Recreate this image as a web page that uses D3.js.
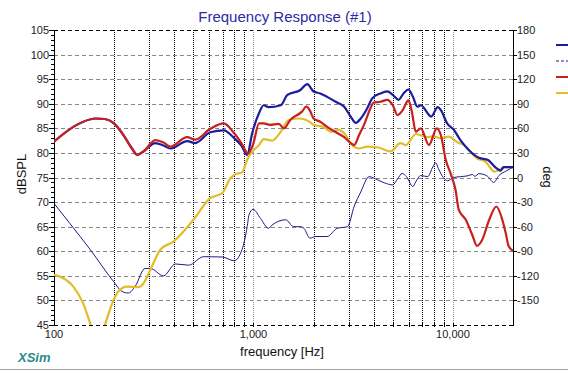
<!DOCTYPE html>
<html>
<head>
<meta charset="utf-8">
<script src="https://cdn.jsdelivr.net/npm/d3@7"></script>
<style>
  body { margin: 0; background: #fff; }
  svg { display: block; font-family: "Liberation Sans", Arial, sans-serif; }
</style>
</head>
<body>
<svg id="chart" width="568" height="374"></svg>
<script>
// SPL of the sum (blue, dB)
const sumFreq = [100,130,161,180,200,223,246,262,281,322,354,383,465,511,607,710,800,870,930,985,1066,1125,1190,1370,1480,1720,1860,2000,2160,2340,2640,2850,3070,3260,3450,3720,3940,4330,4690,4990,5340,5650,5980,6300,6630,6900,7780,8390,8700,9350,10100,10900,12000,13500,14900,16500,17300,18000,20000];
const sumSpl = [82.3,85.7,87.0,86.9,86.0,83.6,80.9,79.6,80.3,82.0,81.5,80.9,82.4,82.0,84.2,84.6,83.0,81.5,79.6,84.0,88.1,89.7,89.3,89.7,91.8,92.8,94.0,92.5,92.1,91.4,90.2,89.4,87.4,86.1,87.0,89.1,91.1,92.1,92.5,91.8,90.8,92.1,92.9,91.4,89.4,89.7,87.4,89.3,88.7,86.0,84.7,82.6,80.6,79.0,78.6,76.9,76.4,77.1,77.1];

// phase of the sum (thin blue, deg)
const phaseFreq = [100,120,152,199,219,236,255,286,304,354,406,473,563,697,800,876,930,950,995,1085,1190,1240,1450,1590,1720,1790,1920,2050,2340,2630,2960,3200,3450,3800,4200,4530,4990,5270,5560,5850,6300,6500,6900,7470,7930,8200,8450,9000,9400,10100,10900,11800,12500,12900,13500,14900,16000,17000,18500,20000];
const phaseDeg = [-31.5,-56,-88,-127,-139,-141,-133,-111,-111,-120,-105.5,-107,-96.6,-97,-101.6,-88,-60,-45.6,-38.8,-50,-62,-58,-51.6,-60,-60,-62,-74,-72,-72,-62,-60,-35,-17.6,1,-3,-6.5,-9,-2,5,1,-11,-5.5,2.4,1,13,18,11,-1,-4,0,1,2,3.6,1.5,4.7,1.5,-6,2.4,8,12.5];

// woofer (red, dB)
const wooferFreq = [100,130,161,180,200,223,246,262,281,322,354,383,465,511,607,710,800,870,940,1000,1066,1125,1210,1340,1420,1530,1750,1840,1930,2000,2160,2340,2640,2850,3070,3200,3380,3580,3860,4000,4330,4690,4990,5270,5600,5980,6200,6520,6900,7580,8300,8700,9200,9800,10300,10700,11600,12500,13200,14000,15200,16500,17500,18400,19000,20000];
const wooferSpl = [82.3,85.7,87.0,86.9,86.0,83.6,80.9,79.6,80.3,82.6,82.1,81.3,83.2,82.7,84.9,86.0,84.0,82.0,79.9,82.0,86.0,86.0,85.7,85.9,85.0,86.7,88.4,89.4,88.4,87.0,86.35,85.3,84.0,83.2,82.0,81.6,83.6,85.7,89.1,90.2,90.4,90.8,89.7,87.7,88.7,90.7,88.7,84.3,85.0,81.6,85.0,83.6,78.6,75.5,72.5,68.4,66.4,63.3,61.1,62.3,66.4,69.1,67.0,63.65,61.1,60.1];

// tweeter (yellow, dB)
const tweeterFreq = [100,109,125,140,152,166,180,199,210,232,265,281,304,341,398,500,607,697,765,800,830,876,930,970,1066,1125,1240,1370,1500,1690,1930,2000,2240,2450,2680,2850,3120,3380,3720,4230,4880,5450,5800,6520,7430,7930,8700,9500,10600,11400,12200,13200,14600,16100,17000,18000,20000];
const tweeterSpl = [55.2,54.7,52.8,49.4,45.3,40.5,45,50.1,51.8,52.8,52.7,53.5,56.2,60.3,62.0,66.4,70.8,71.8,74.8,75.5,75.8,76.0,78.6,79.9,81.6,82.8,82.5,84.3,86.7,87.0,86.2,85.7,85.3,84.3,84.7,84.0,81.6,80.9,81.3,81.1,80.3,82.0,81.6,83.85,83.2,83.4,83.0,83.3,82.1,81.6,80.3,78.9,78.2,76.2,76.5,77.1,77.1];

const splTicks = [45,50,55,60,65,70,75,80,85,90,95,100,105];
const degTicks = [180,150,120,90,60,30,0,-30,-60,-90,-120,-150];
const freqLabels = [100, 1000, 10000];

const margin = {left: 54, right: 513, top: 30, bottom: 325};
const svg = d3.select('#chart');

const x = d3.scaleLog().domain([100, 20000]).range([margin.left, margin.right]);
const y = d3.scaleLinear().domain([45, 105]).range([margin.bottom, margin.top]);
const yDeg = d3.scaleLinear().domain([-180, 180]).range([margin.bottom, margin.top]);

const crisp = v => Math.round(v) + 0.5;

// title
svg.append('text')
    .attr('x', 285).attr('y', 22)
    .attr('text-anchor', 'middle')
    .attr('font-size', 15)
    .attr('fill', '#2b2ba6')
    .text('Frequency Response (#1)');

// horizontal grid
const grid = svg.append('g');
splTicks.forEach(v => {
    const edge = v === 45 || v === 105;
    grid.append('line')
        .attr('x1', margin.left).attr('x2', margin.right)
        .attr('y1', crisp(y(v))).attr('y2', crisp(y(v)))
        .attr('stroke', edge ? '#000' : '#888')
        .attr('stroke-dasharray', '4,3');
});

// vertical grid (dotted)
const vlines = [];
[100, 1000, 10000].forEach(dec => {
    for (let m = 1; m <= 9; m++) {
        const f = dec * m;
        if (f > 100 && f < 20000) vlines.push(f);
    }
});
vlines.forEach(f => {
    const decade = f === 1000 || f === 10000;
    grid.append('line')
        .attr('x1', crisp(x(f))).attr('x2', crisp(x(f)))
        .attr('y1', margin.top).attr('y2', margin.bottom)
        .attr('stroke', decade ? '#999' : '#000')
        .attr('stroke-dasharray', '1,1');
    // small tick on the bottom edge
    grid.append('line')
        .attr('x1', crisp(x(f))).attr('x2', crisp(x(f)))
        .attr('y1', margin.bottom - 2).attr('y2', margin.bottom + 2)
        .attr('stroke', '#000');
});

// left axis
const left = svg.append('g');
left.append('line')
    .attr('x1', crisp(margin.left)).attr('x2', crisp(margin.left))
    .attr('y1', margin.top).attr('y2', margin.bottom + 1)
    .attr('stroke', '#000');
for (let v = 45; v <= 105; v++) {
    const major = v % 5 === 0;
    left.append('line')
        .attr('x1', margin.left - (major ? 5 : 3)).attr('x2', margin.left)
        .attr('y1', crisp(y(v))).attr('y2', crisp(y(v)))
        .attr('stroke', '#000');
}
splTicks.forEach(v => {
    left.append('text')
        .attr('x', margin.left - 5).attr('y', y(v) + 4)
        .attr('text-anchor', 'end')
        .attr('font-size', 11)
        .attr('fill', '#222')
        .text(v);
});

// right axis
const right = svg.append('g');
right.append('line')
    .attr('x1', crisp(margin.right)).attr('x2', crisp(margin.right))
    .attr('y1', margin.top).attr('y2', margin.bottom + 1)
    .attr('stroke', '#000');
degTicks.forEach(v => {
    right.append('line')
        .attr('x1', margin.right).attr('x2', margin.right + 4)
        .attr('y1', crisp(yDeg(v))).attr('y2', crisp(yDeg(v)))
        .attr('stroke', '#000');
    right.append('text')
        .attr('x', margin.right + 4).attr('y', yDeg(v) + 4)
        .attr('font-size', 11)
        .attr('fill', '#222')
        .text(v);
});

// x labels
freqLabels.forEach(f => {
    svg.append('text')
        .attr('x', x(f)).attr('y', 338)
        .attr('text-anchor', 'middle')
        .attr('font-size', 11)
        .attr('fill', '#222')
        .text(d3.format(',')(f));
});

// axis titles
svg.append('text')
    .attr('x', 282).attr('y', 356)
    .attr('text-anchor', 'middle')
    .attr('font-size', 13)
    .attr('fill', '#111')
    .text('frequency [Hz]');
svg.append('text')
    .attr('transform', 'translate(26,174) rotate(-90)')
    .attr('text-anchor', 'middle')
    .attr('font-size', 13)
    .attr('fill', '#111')
    .text('dBSPL');
svg.append('text')
    .attr('transform', 'translate(543,177) rotate(90)')
    .attr('text-anchor', 'middle')
    .attr('font-size', 13)
    .attr('fill', '#111')
    .text('deg');

// curves
svg.append('clipPath').attr('id', 'plot')
    .append('rect')
    .attr('x', margin.left).attr('y', margin.top)
    .attr('width', margin.right - margin.left)
    .attr('height', margin.bottom - margin.top);

const curves = svg.append('g').attr('clip-path', 'url(#plot)');
const splLine = d3.line().x(d => x(d[0])).y(d => y(d[1])).curve(d3.curveMonotoneX);
const degLine = d3.line().x(d => x(d[0])).y(d => yDeg(d[1])).curve(d3.curveMonotoneX);

const series = [
    {f: phaseFreq, v: phaseDeg, line: degLine, color: '#1a1a8c', width: 1},
    {f: tweeterFreq, v: tweeterSpl, line: splLine, color: '#e2bc2a', width: 2.2},
    {f: sumFreq, v: sumSpl, line: splLine, color: '#1c1c9e', width: 2.2},
    {f: wooferFreq, v: wooferSpl, line: splLine, color: '#c8201e', width: 2.2}
];
series.forEach(s => {
    curves.append('path')
        .datum(s.f.map((f, i) => [f, s.v[i]]))
        .attr('d', s.line)
        .attr('fill', 'none')
        .attr('stroke', s.color)
        .attr('stroke-width', s.width)
        .attr('stroke-linejoin', 'round');
});

// legend (cut at the right edge like the original)
const legend = [
    {y: 45, color: '#1c1c9e', width: 2, dash: null},
    {y: 61, color: '#1a1a8c', width: 1, dash: '3,2'},
    {y: 77, color: '#c8201e', width: 2, dash: null},
    {y: 93, color: '#e2bc2a', width: 2, dash: null}
];
legend.forEach(l => {
    svg.append('line')
        .attr('x1', 556).attr('x2', 568)
        .attr('y1', l.y).attr('y2', l.y)
        .attr('stroke', l.color)
        .attr('stroke-width', l.width)
        .attr('stroke-dasharray', l.dash);
});

// XSim logo and bottom rule
svg.append('text')
    .attr('x', 18).attr('y', 362)
    .attr('font-size', 13)
    .attr('font-weight', 'bold')
    .attr('font-style', 'italic')
    .attr('fill', '#2a8a8c')
    .text('XSim');
svg.append('line')
    .attr('x1', 0).attr('x2', 568)
    .attr('y1', 369.5).attr('y2', 369.5)
    .attr('stroke', '#a0a0a0');
</script>
</body>
</html>
